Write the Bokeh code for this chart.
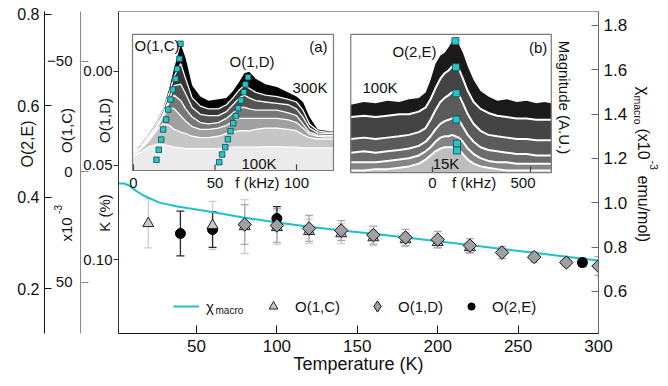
import math
from bokeh.plotting import figure
from bokeh.layouts import column
from bokeh.models import (Range1d, LinearAxis, FixedTicker, PrintfTickFormatter,
                          Label, Legend, LegendItem, ColumnDataSource)
from bokeh.embed import file_html
from bokeh.resources import INLINE

FONT = "Liberation Sans"

# ---------------- main panel data ----------------
temp_chi = [1.5, 5, 8, 12, 17, 27, 38, 58, 79, 100, 119, 140, 160, 180, 200, 220, 240, 260, 280, 300]
chi_macro = [1.087, 1.087, 1.078, 1.056, 1.033, 1.001, 0.983, 0.961, 0.934, 0.911, 0.893, 0.875,
             0.861, 0.844, 0.827, 0.810, 0.792, 0.775, 0.757, 0.740]

temp_1C = [20, 60, 80, 100, 120, 140, 160, 180, 200, 220]
k_1C = [23.5, 24.4, 24.9, 25.3, 27.1, 28.1, 29.9, 30.8, 32.1, 34.4]          # x10^-3
k_1C_err = [11.1, 10.9, 12.2, 7.7, 5.4, 4.5, 3.6, 3.2, 2.7, 2.7]

temp_1D = [80, 100, 120, 140, 160, 180, 200, 220, 240, 260, 280, 300]
k_1D = [0.0814, 0.0819, 0.0835, 0.0846, 0.0870, 0.0883, 0.0894, 0.0926, 0.0963, 0.0987, 0.1016, 0.1035]
k_1D_err = [0.0106, 0.0090, 0.0069, 0.0053, 0.0048, 0.0043, 0.0043, 0.0037, 0.0032, 0.0027, 0.0021, 0.0050]

temp_2E = [40, 60, 100, 290]
k_2E = [0.3204, 0.3292, 0.3533, 0.2569]
k_2E_err = [0.049, 0.039, 0.026, 0.009]

x_ticks = [50, 100, 150, 200, 250, 300]
chi_ticks = [0.6, 0.8, 1.0, 1.2, 1.4, 1.6, 1.8]
k_ticks = [0.0, 0.05, 0.10]
oc_ticks = [-50, 0, 50]
oe_ticks = [0.2, 0.4, 0.6, 0.8]

# ---------------- inset (a) data ----------------
freq_a = [-0.5, 4, 9, 14, 18, 22, 25, 29, 32, 36, 41, 46, 52, 57, 61, 65, 68, 71, 75, 81, 88, 95,
          100, 104, 108, 113, 118, 122.5]
spec_a_300K = [0.13, 0.18, 0.26, 0.35, 0.45, 0.60, 0.75, 0.92, 0.82, 0.62, 0.54, 0.51, 0.52, 0.53, 0.58,
               0.65, 0.71, 0.72, 0.67, 0.63, 0.61, 0.57, 0.54, 0.50, 0.39, 0.30, 0.29, 0.287]
spec_a_250K = [0.13, 0.17, 0.25, 0.34, 0.44, 0.57, 0.69, 0.78, 0.67, 0.53, 0.47, 0.45, 0.45, 0.48, 0.53,
               0.59, 0.62, 0.60, 0.57, 0.55, 0.54, 0.52, 0.50, 0.44, 0.34, 0.29, 0.28, 0.28]
spec_a_200K = [0.13, 0.17, 0.24, 0.32, 0.41, 0.52, 0.62, 0.63, 0.56, 0.46, 0.41, 0.40, 0.40, 0.43, 0.48,
               0.53, 0.55, 0.53, 0.51, 0.50, 0.49, 0.48, 0.45, 0.39, 0.31, 0.275, 0.27, 0.27]
spec_a_175K = [0.12, 0.16, 0.23, 0.31, 0.40, 0.50, 0.55, 0.51, 0.45, 0.39, 0.35, 0.34, 0.35, 0.38, 0.42,
               0.46, 0.46, 0.45, 0.44, 0.44, 0.44, 0.42, 0.40, 0.34, 0.28, 0.26, 0.255, 0.255]
spec_a_150K = [0.12, 0.16, 0.22, 0.30, 0.39, 0.46, 0.45, 0.40, 0.36, 0.32, 0.30, 0.30, 0.31, 0.33, 0.36,
               0.38, 0.38, 0.38, 0.38, 0.38, 0.38, 0.37, 0.35, 0.31, 0.265, 0.25, 0.245, 0.245]
spec_a_125K = [0.11, 0.15, 0.21, 0.29, 0.34, 0.33, 0.30, 0.28, 0.27, 0.25, 0.24, 0.24, 0.25, 0.27, 0.28,
               0.29, 0.29, 0.29, 0.30, 0.31, 0.31, 0.30, 0.29, 0.26, 0.24, 0.23, 0.23, 0.23]
spec_a_100K = [0.10, 0.13, 0.17, 0.19, 0.19, 0.18, 0.17, 0.165, 0.16, 0.16, 0.16, 0.16, 0.16, 0.165, 0.17,
               0.17, 0.17, 0.17, 0.17, 0.175, 0.175, 0.17, 0.17, 0.165, 0.165, 0.165, 0.165, 0.165]
peak_1C_f = [28.8, 28.2, 26.8, 25.8, 24.1, 22.7, 21.3, 20.0, 18.2, 17.0, 15.5, 14.1]
peak_1C_v = [0.925, 0.815, 0.742, 0.669, 0.591, 0.518, 0.445, 0.372, 0.299, 0.226, 0.151, 0.078]
peak_1D_f = [70.3, 68.7, 67.7, 66.0, 64.2, 62.8, 61.2, 59.5, 57.9, 56.3, 54.4, 52.6]
peak_1D_v = [0.681, 0.628, 0.572, 0.511, 0.455, 0.397, 0.345, 0.287, 0.228, 0.170, 0.117, 0.061]
inset_a_ticks = [0, 50, 100]

# ---------------- inset (b) data ----------------
freq_b = [-417, -350, -290, -230, -170, -120, -70, -35, -10, 15, 40, 62, 82, 100, 117, 135, 155, 180,
          210, 245, 285, 330, 380, 430, 480, 530, 570, 606]
spec_b_100K = [0.48, 0.50, 0.49, 0.51, 0.50, 0.52, 0.53, 0.57, 0.66, 0.78, 0.84, 0.86, 0.90, 0.94, 0.96,
               0.92, 0.86, 0.76, 0.66, 0.58, 0.54, 0.51, 0.52, 0.50, 0.51, 0.49, 0.50, 0.49]
spec_b_75K = [0.39, 0.40, 0.39, 0.40, 0.41, 0.41, 0.43, 0.46, 0.52, 0.60, 0.67, 0.71, 0.73, 0.76, 0.77,
              0.74, 0.67, 0.58, 0.50, 0.45, 0.42, 0.40, 0.39, 0.38, 0.38, 0.37, 0.37, 0.37]
spec_b_50K = [0.23, 0.24, 0.23, 0.24, 0.25, 0.26, 0.28, 0.31, 0.37, 0.44, 0.50, 0.53, 0.55, 0.57, 0.58,
              0.55, 0.49, 0.41, 0.34, 0.29, 0.26, 0.25, 0.24, 0.23, 0.23, 0.22, 0.22, 0.22]
spec_b_35K = [0.13, 0.14, 0.13, 0.14, 0.15, 0.16, 0.18, 0.21, 0.25, 0.30, 0.34, 0.36, 0.37, 0.38, 0.39,
              0.37, 0.32, 0.26, 0.21, 0.17, 0.15, 0.14, 0.13, 0.12, 0.12, 0.11, 0.11, 0.11]
spec_b_25K = [0.06, 0.06, 0.06, 0.07, 0.08, 0.09, 0.11, 0.14, 0.17, 0.21, 0.24, 0.25, 0.25, 0.26, 0.25,
              0.24, 0.21, 0.16, 0.12, 0.09, 0.07, 0.06, 0.06, 0.05, 0.05, 0.05, 0.05, 0.05]
spec_b_15K = [0.0, 0.0, 0.01, 0.01, 0.02, 0.03, 0.05, 0.08, 0.11, 0.14, 0.16, 0.17, 0.17, 0.17, 0.16,
              0.15, 0.12, 0.08, 0.05, 0.03, 0.02, 0.01, 0.0, 0.0, 0.0, 0.0, 0.0, 0.0]
peak_2E_f = [117, 120, 122, 122, 125, 125]
peak_2E_v = [0.944, 0.754, 0.564, 0.372, 0.196, 0.146]
inset_b_ticks = [0, 500]

# ---------------- figure ----------------
p = figure(width=668, height=386, output_backend="svg", toolbar_location=None,
           x_range=Range1d(1.5, 300), y_range=Range1d(0.13936, -0.03191),
           min_border_left=118, min_border_right=70, min_border_top=11, min_border_bottom=53)
p.extra_y_ranges = {"chi": Range1d(0.4105, 1.8631), "oc": Range1d(73.30, -72.40),
                    "oe": Range1d(0.1015, 0.8065), "ins": Range1d(-1.1898, 1.1606)}
p.extra_x_ranges = {"xa": Range1d(-9.202, 285.28), "xb": Range1d(-1602.0, 846.9)}
p.grid.visible = False
p.outline_line_color = "#9a9a9a"
p.background_fill_color = "white"
p.border_fill_color = "white"


def style_axis(ax, size, color="#222222"):
    ax.major_label_text_font = FONT
    ax.major_label_text_font_size = size
    ax.major_label_text_color = "#111111"
    ax.axis_line_color = color
    ax.major_tick_line_color = color
    ax.minor_tick_line_color = None
    ax.axis_label_text_font = FONT
    ax.axis_label_text_font_style = "normal"


xax = p.xaxis[0]
style_axis(xax, "17px", "#111111")
xax.ticker = FixedTicker(ticks=x_ticks)
xax.major_tick_in = 8
xax.major_tick_out = 0
xax.major_label_standoff = 6
xax.axis_label = "Temperature (K)"
xax.axis_label_text_font_size = "18px"
xax.axis_label_text_color = "#111111"
xax.axis_label_standoff = -1

kax = p.yaxis[0]
style_axis(kax, "15px", "#333333")
kax.ticker = FixedTicker(ticks=k_ticks)
kax.formatter = PrintfTickFormatter(format="%.2f")
kax.major_tick_out = 5
kax.major_tick_in = 0
kax.major_label_standoff = 1

ocax = LinearAxis(y_range_name="oc", ticker=FixedTicker(ticks=oc_ticks))
style_axis(ocax, "15px", "#8a8a8a")
ocax.major_tick_in = 8
ocax.major_tick_out = 0
ocax.major_label_standoff = 8
p.add_layout(ocax, "left")

oeax = LinearAxis(y_range_name="oe", ticker=FixedTicker(ticks=oe_ticks))
style_axis(oeax, "16px", "#111111")
oeax.major_tick_in = 7
oeax.major_tick_out = 0
oeax.major_label_standoff = 5
p.add_layout(oeax, "left")

chiax = LinearAxis(y_range_name="chi", ticker=FixedTicker(ticks=chi_ticks),
                   formatter=PrintfTickFormatter(format="%.1f"))
style_axis(chiax, "17px", "#666666")
chiax.major_tick_in = 7
chiax.major_tick_out = 0
chiax.major_label_standoff = 5
p.add_layout(chiax, "right")

# ---------------- inset (a) ----------------
layers_a = [(spec_a_300K, "#050505"), (spec_a_250K, "#363636"), (spec_a_200K, "#555555"),
            (spec_a_175K, "#787878"), (spec_a_150K, "#a0a0a0"), (spec_a_125K, "#c6c6c6"),
            (spec_a_100K, "#ebebeb")]
for i, (spec, col) in enumerate(layers_a):
    p.varea(x=freq_a, y1=0, y2=spec, fill_color=col, x_range_name="xa", y_range_name="ins")
    if i > 0:
        p.line(freq_a, spec, line_color="white", line_width=1.3, x_range_name="xa", y_range_name="ins")
p.scatter(peak_1C_f, peak_1C_v, marker="square", size=5.5, fill_color="#26c6c8", line_color="#0d4a4c",
          line_width=0.8, x_range_name="xa", y_range_name="ins")
p.scatter(peak_1D_f, peak_1D_v, marker="square", size=5.5, fill_color="#26c6c8", line_color="#0d4a4c",
          line_width=0.8, x_range_name="xa", y_range_name="ins")
p.segment(x0=inset_a_ticks, y0=[0] * 3, x1=inset_a_ticks, y1=[0.045] * 3, line_color="#444444",
          line_width=1.2, x_range_name="xa", y_range_name="ins")
p.quad(left=-0.6, right=122.7, bottom=0, top=0.993, fill_color=None, line_color="#7a7a7a",
       line_width=1.2, x_range_name="xa", y_range_name="ins")

# ---------------- inset (b) ----------------
layers_b = [(spec_b_100K, "#1a1a1a"), (spec_b_75K, "#444444"), (spec_b_50K, "#5a5a5a"),
            (spec_b_35K, "#6b6b6b"), (spec_b_25K, "#858585"), (spec_b_15K, "#bdbdbd")]
for i, (spec, col) in enumerate(layers_b):
    p.varea(x=freq_b, y1=-0.015, y2=spec, fill_color=col, x_range_name="xb", y_range_name="ins")
    if i > 0:
        p.line(freq_b, spec, line_color="white", line_width=2, x_range_name="xb", y_range_name="ins")
p.scatter(peak_2E_f, peak_2E_v, marker="square", size=7, fill_color="#26c6c8", line_color="#0d4a4c",
          line_width=0.8, x_range_name="xb", y_range_name="ins")
p.segment(x0=inset_b_ticks, y0=[-0.015] * 2, x1=inset_b_ticks, y1=[0.03] * 2, line_color="#444444",
          line_width=1.2, x_range_name="xb", y_range_name="ins")
p.quad(left=-417, right=606, bottom=-0.015, top=0.993, fill_color=None, line_color="#7a7a7a",
       line_width=1.2, x_range_name="xb", y_range_name="ins")


def lab(fig, text, x, y, size="15px", xr="default", yr="default", align="center", angle=0.0,
        color="#111111", xoff=0):
    fig.add_layout(Label(x=x, y=y, text=text, x_range_name=xr, y_range_name=yr, text_align=align,
                         text_baseline="middle", angle=angle, text_font=FONT, text_font_size=size,
                         text_color=color, x_offset=xoff))


# inset labels
lab(p, "O(1,C)", 0.6, 0.912, xr="xa", yr="ins", align="left")
lab(p, "(a)", 119, 0.905, xr="xa", yr="ins", align="right")
lab(p, "O(1,D)", 72.7, 0.796, xr="xa", yr="ins")
lab(p, "300K", 119, 0.606, xr="xa", yr="ins", align="right")
lab(p, "100K", 77, 0.051, xr="xa", yr="ins")
for t in inset_a_ticks:
    lab(p, str(t), t, -0.088, xr="xa", yr="ins")
lab(p, "f (kHz)", 76, -0.088, xr="xa", yr="ins")

lab(p, "O(2,E)", -92, 0.869, xr="xb", yr="ins")
lab(p, "(b)", 586, 0.901, xr="xb", yr="ins", align="right")
lab(p, "100K", -357, 0.606, xr="xb", yr="ins", align="left")
lab(p, "15K", 69, 0.051, xr="xb", yr="ins")
lab(p, "Magnitude (A.U.)", 673, 0.533, xr="xb", yr="ins", angle=-math.pi / 2)
lab(p, "0", 0, -0.088, xr="xb", yr="ins")
lab(p, "f (kHz)", 212, -0.088, xr="xb", yr="ins")
lab(p, "500", 500, -0.088, xr="xb", yr="ins", align="right", xoff=5)

# ---------------- main data ----------------
src_c = ColumnDataSource(dict(t=temp_1C, v=k_1C, lo=[a - b for a, b in zip(k_1C, k_1C_err)],
                              hi=[a + b for a, b in zip(k_1C, k_1C_err)]))
src_d = ColumnDataSource(dict(t=temp_1D, v=k_1D, lo=[a - b for a, b in zip(k_1D, k_1D_err)],
                              hi=[a + b for a, b in zip(k_1D, k_1D_err)]))
src_e = ColumnDataSource(dict(t=temp_2E, v=k_2E, lo=[a - b for a, b in zip(k_2E, k_2E_err)],
                              hi=[a + b for a, b in zip(k_2E, k_2E_err)]))

for src, yr, col in [(src_c, "oc", "#cfcfcf"), (src_d, "default", "#ababab"), (src_e, "oe", "#2a2a2a")]:
    p.segment(x0="t", y0="lo", x1="t", y1="hi", source=src, line_color=col, line_width=1.3, y_range_name=yr)
    p.scatter("t", "lo", source=src, marker="dash", size=8, line_color=col, line_width=1.3, y_range_name=yr)
    p.scatter("t", "hi", source=src, marker="dash", size=8, line_color=col, line_width=1.3, y_range_name=yr)

r_chi = p.line(temp_chi, chi_macro, line_color="#1fc0c6", line_width=2, y_range_name="chi")
r_e = p.scatter("t", "v", source=src_e, marker="circle", size=10, fill_color="black", line_color="black",
                y_range_name="oe")
r_c = p.scatter("t", "v", source=src_c, marker="triangle", size=11, fill_color="#c8c8c8",
                line_color="#222222", line_width=1, y_range_name="oc")
r_d = p.scatter("t", "v", source=src_d, marker="square", size=9.5, angle=math.pi / 4,
                fill_color="#a0a0a0", line_color="#111111", line_width=1)
# legend proxy (diamond glyph for the key, not drawn in the plot)
r_d_key = p.scatter("t", "v", source=src_d, marker="diamond", size=12, fill_color="#a0a0a0",
                    line_color="#111111", line_width=1, visible=False)


# ---------------- legends ----------------
def mk_legend(label, rend, x, gw, gh, standoff):
    lg = Legend(items=[LegendItem(label=label, renderers=[rend])], location=(x, 27 - gh / 2),
                orientation="horizontal", padding=0, margin=0, spacing=0, border_line_color=None,
                background_fill_alpha=0, glyph_width=gw, glyph_height=gh, label_standoff=standoff,
                label_text_font=FONT, label_text_font_size="15px", label_height=gh,
                label_text_color="#111111")
    p.add_layout(lg, "center")


mk_legend("χ", r_chi, 55, 26, 20, 7)
mk_legend("O(1,C)", r_c, 144, 22, 22, 11)
mk_legend("O(1,D)", r_d_key, 245, 28, 28, 7)
mk_legend("O(2,E)", r_e, 344, 18, 18, 12)

# ---------------- transparent overlay for titles outside the frame ----------------
q = figure(width=668, height=386, output_backend="svg", toolbar_location=None,
           x_range=Range1d(0, 668), y_range=Range1d(386, 0), min_border=0,
           x_axis_location=None, y_axis_location=None, frame_align=False)
q.grid.visible = False
q.outline_line_color = None
q.background_fill_color = None
q.border_fill_color = None
q.styles = {"position": "absolute", "left": "0px", "top": "0px"}

lab(q, "macro", 215, 310, size="10px", align="left")
# left axis titles
lab(q, "O(2,E)", 26.5, 143.5, size="16px", angle=math.pi / 2)
lab(q, "O(1,C)", 66, 130, size="15px", angle=math.pi / 2)
lab(q, "x10", 66, 229, size="15px", angle=math.pi / 2)
lab(q, "-3", 57, 209, size="10px", angle=math.pi / 2)
lab(q, "O(1,D)", 103.5, 120, size="15px", angle=math.pi / 2)
lab(q, "K (%)", 103.5, 212.5, size="15px", angle=math.pi / 2)
# right axis title (reads downward)
lab(q, "χ", 643, 86, size="17px", align="left", angle=-math.pi / 2)
lab(q, "macro", 637, 95, size="10.5px", align="left", angle=-math.pi / 2)
lab(q, "(x10", 643, 128, size="16px", align="left", angle=-math.pi / 2)
lab(q, "-3", 653, 160, size="10.5px", align="left", angle=-math.pi / 2)
lab(q, "emu/mol)", 643, 175, size="16px", align="left", angle=-math.pi / 2)

root = column(p, q, spacing=0)
root.styles = {"position": "relative"}
open("out.html", "w").write(file_html(root, INLINE))
